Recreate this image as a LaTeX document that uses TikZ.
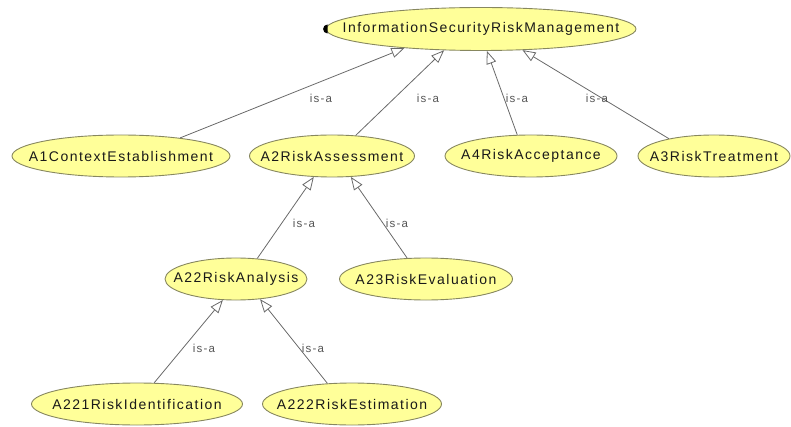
\documentclass[tikz,border=0pt]{standalone}
\usepackage{fontspec}
\setmainfont{Liberation Sans}
\newfontfamily\nodefont{Liberation Sans}[LetterSpace=10.5]
\usetikzlibrary{shapes.geometric,arrows.meta}
\definecolor{nodefill}{RGB}{255,255,153}
\definecolor{nodeline}{RGB}{135,135,95}
\definecolor{edgecol}{RGB}{105,105,105}
\definecolor{labcol}{RGB}{85,85,85}
\newcommand{\nm}[1]{\makebox[0pt]{#1}}
\tikzset{
  cls/.style={ellipse, draw=nodeline, fill=nodefill, line width=0.9pt, inner sep=0pt,
    minimum height=42pt, font=\nodefont\fontsize{14pt}{16pt}\selectfont, text=black!90},
  isa/.style={draw=edgecol, line width=0.8pt, -{Triangle[open, length=13pt, width=10pt]}},
  lab/.style={font=\nodefont\fontsize{11.5pt}{13pt}\selectfont, text=labcol, inner sep=0pt}
}
\begin{document}
\begin{tikzpicture}[x=1pt,y=-1pt]
\useasboundingbox (0,0) rectangle (791,427);
\node[cls, minimum width=310pt, minimum height=43pt] (top) at (481,29) {\nm{InformationSecurityRiskManagement}};
\node[cls, minimum width=218pt] (a1) at (121,156) {\nm{A1ContextEstablishment}};
\node[cls, minimum width=165pt] (a2) at (332,156) {\nm{A2RiskAssessment}};
\node[cls, minimum width=172pt] (a4) at (531,156) {\nm{A4RiskAcceptance}};
\node[cls, minimum width=152pt] (a3) at (714,156) {\nm{A3RiskTreatment}};
\node[cls, minimum width=142pt] (a22) at (236,279) {\nm{A22RiskAnalysis}};
\node[cls, minimum width=173pt] (a23) at (426,279) {\nm{A23RiskEvaluation}};
\node[cls, minimum width=211pt] (a221) at (137,404) {\nm{A221RiskIdentification}};
\node[cls, minimum width=179pt] (a222) at (352,404) {\nm{A222RiskEstimation}};
\fill ([shift={(2pt,4.5pt)}]top.west) arc[start angle=90, end angle=270, radius=4.5pt] -- cycle;
\draw[isa] (a1.17) -- (top.194.5);
\draw[isa] (a2.41) -- (top.210);
\draw[isa] (a4.123) -- (top.285);
\draw[isa] (a3.159) -- (top.333);
\draw[isa] (a22.44) -- (a2.229);
\draw[isa] (a23.132) -- (a2.312);
\draw[isa] (a221.51) -- (a22.238);
\draw[isa] (a222.140) -- (a22.320);
\node[lab] (l1) at (321,98) {is-a};
\node[lab] (l2) at (428,98) {is-a};
\node[lab] (l3) at (517,98) {is-a};
\node[lab] (l4) at (597,98) {is-a};
\node[lab] (l5) at (304,223) {is-a};
\node[lab] (l6) at (397,223) {is-a};
\node[lab] (l7) at (204,348) {is-a};
\node[lab] (l8) at (313,348) {is-a};
\end{tikzpicture}
\end{document}
